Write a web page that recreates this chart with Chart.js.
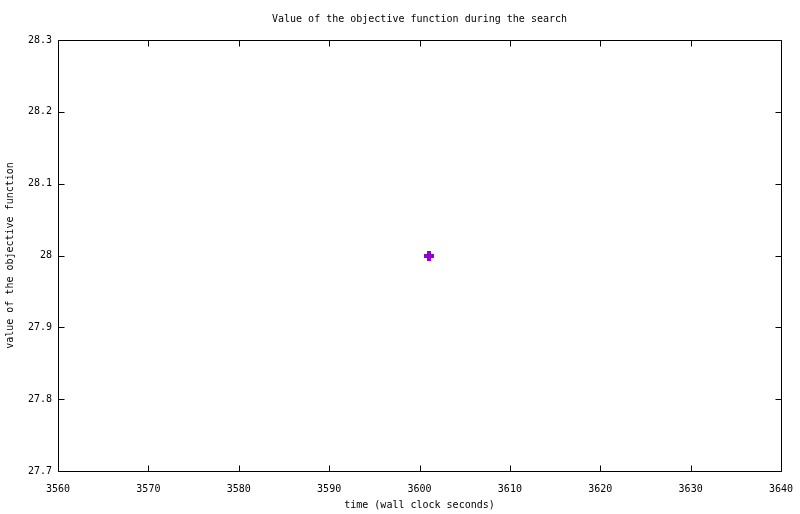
<!DOCTYPE html>
<html><head><meta charset="utf-8">
<script src="https://cdn.jsdelivr.net/npm/chart.js@4/dist/chart.umd.min.js"></script>
<style>html,body{margin:0;padding:0;background:#fff}#wrap{width:800px;height:514px}</style>
</head><body><div id="wrap"><canvas id="c" width="800" height="514"></canvas></div>
<script>
const timeValues = [3601];
const objectiveValues = [28.0];
const xTicks = [3560, 3570, 3580, 3590, 3600, 3610, 3620, 3630, 3640];
const yTicks = [27.7, 27.8, 27.9, 28.0, 28.1, 28.2, 28.3];
const titleText = 'Value of the objective function during the search';
const xTitle = 'time (wall clock seconds)';
const yTitle = 'value of the objective function';

const FONT = {family: '"DejaVu Sans Mono", monospace', size: 10, weight: 'normal'};

const framePlugin = {
  id: 'frame',
  afterDraw(chart) {
    const ctx = chart.ctx, a = chart.chartArea;
    const xs = chart.scales.x, ys = chart.scales.y;
    const L = Math.round(a.left) + 0.5, R = Math.round(a.right) + 0.5;
    const T = Math.round(a.top) + 0.5, B = Math.round(a.bottom) + 0.5;
    ctx.save();
    ctx.strokeStyle = '#000'; ctx.lineWidth = 1;
    ctx.beginPath();
    ctx.rect(L, T, R - L, B - T);
    const tl = 6;
    xTicks.forEach(v => {
      const px = Math.round(xs.getPixelForValue(v)) + 0.5;
      ctx.moveTo(px, B); ctx.lineTo(px, B - tl);
      ctx.moveTo(px, T); ctx.lineTo(px, T + tl);
    });
    yTicks.forEach(v => {
      const py = Math.round(ys.getPixelForValue(v)) + 0.5;
      ctx.moveTo(L, py); ctx.lineTo(L + tl, py);
      ctx.moveTo(R, py); ctx.lineTo(R - tl, py);
    });
    ctx.stroke();
    // title centred over the plot area
    ctx.fillStyle = '#000';
    ctx.font = '10px "DejaVu Sans Mono", monospace';
    ctx.textAlign = 'center';
    ctx.textBaseline = 'middle';
    ctx.fillText(titleText, (a.left + a.right) / 2, 19.5);
    ctx.restore();
  }
};

new Chart(document.getElementById('c'), {
  type: 'scatter',
  data: {
    datasets: [{
      data: timeValues.map((t, i) => ({x: t, y: objectiveValues[i]})),
      pointRadius: 0,
      backgroundColor: '#9400D3',
      borderColor: '#9400D3'
    }]
  },
  options: {
    responsive: false,
    animation: false,
    devicePixelRatio: 1,
    layout: {padding: {left: 0, right: 19, top: 40, bottom: 0}},
    plugins: {
      legend: {display: false},
      tooltip: {enabled: false},
      title: {display: false}
    },
    scales: {
      x: {
        type: 'linear', min: 3560, max: 3640,
        afterBuildTicks: s => { s.ticks = xTicks.map(v => ({value: v})); },
        afterFit: s => { s.height = 43; s.paddingRight = 0; s.paddingLeft = 0; },
        grid: {display: false, drawTicks: false},
        border: {display: false},
        ticks: {color: '#000', font: FONT, padding: 12, maxRotation: 0, autoSkip: false,
                callback: v => String(v)},
        title: {display: true, text: xTitle, color: '#000', font: FONT, padding: {top: 0, bottom: 3}}
      },
      y: {
        type: 'linear', min: 27.7, max: 28.3,
        afterBuildTicks: s => { s.ticks = yTicks.map(v => ({value: v})); },
        afterFit: s => { s.width = 58; s.paddingTop = 0; s.paddingBottom = 0; },
        grid: {display: false, drawTicks: false},
        border: {display: false},
        ticks: {color: '#000', font: FONT, padding: 6, autoSkip: false,
                callback: v => (Math.abs(v - Math.round(v)) < 1e-9 ? String(Math.round(v)) : v.toFixed(1))},
        title: {display: true, text: yTitle, color: '#000', font: FONT, padding: {top: 4, bottom: 0}}
      }
    }
  },
  plugins: [framePlugin, {
    id: 'plusMarker',
    afterDatasetsDraw(chart) {
      const ctx = chart.ctx, xs = chart.scales.x, ys = chart.scales.y;
      ctx.save();
      ctx.fillStyle = '#9400D3';
      timeValues.forEach((t, i) => {
        const px = Math.round(xs.getPixelForValue(t));
        const py = Math.round(ys.getPixelForValue(objectiveValues[i]));
        ctx.fillRect(px - 5, py - 2, 10, 4);
        ctx.fillRect(px - 2, py - 5, 4, 10);
      });
      ctx.restore();
    }
  }]
});
</script></body></html>
